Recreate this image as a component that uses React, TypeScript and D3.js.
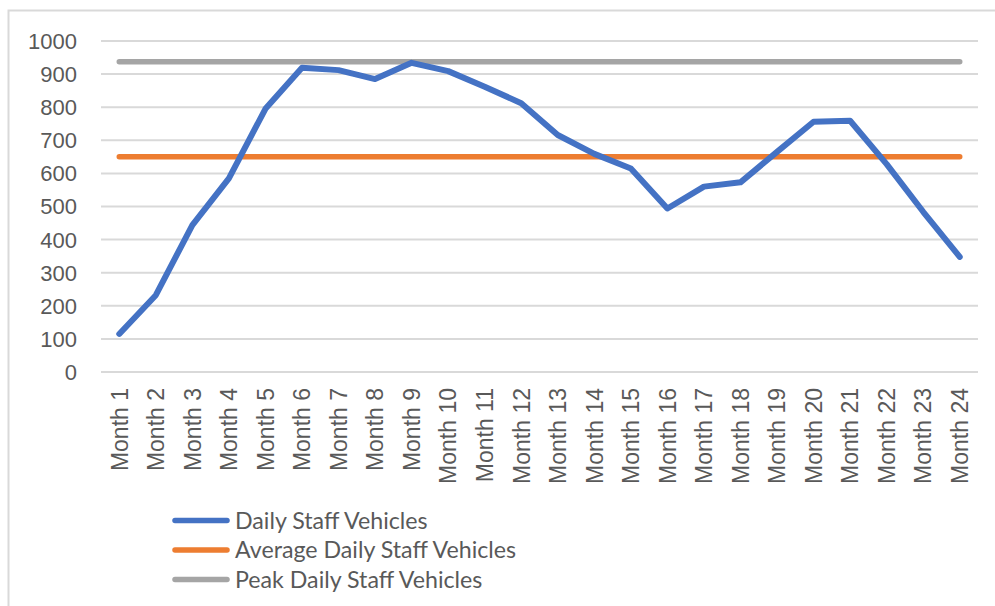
import React, { useEffect, useRef } from "react";
import * as d3 from "d3";

// data
const months = [
  "Month 1", "Month 2", "Month 3", "Month 4", "Month 5", "Month 6",
  "Month 7", "Month 8", "Month 9", "Month 10", "Month 11", "Month 12",
  "Month 13", "Month 14", "Month 15", "Month 16", "Month 17", "Month 18",
  "Month 19", "Month 20", "Month 21", "Month 22", "Month 23", "Month 24",
];
const dailyVehicles = [
  115, 232, 444, 585, 795, 919, 912, 885, 934, 909, 862, 812,
  716, 659, 615, 494, 560, 573, 665, 756, 759, 628, 484, 348,
];
const averageVehicles = months.map(() => 650);
const peakVehicles = months.map(() => 937);
const yTicks = [0, 100, 200, 300, 400, 500, 600, 700, 800, 900, 1000];

const series = [
  { name: "Daily Staff Vehicles", values: dailyVehicles, color: "#4472C4" },
  { name: "Average Daily Staff Vehicles", values: averageVehicles, color: "#ED7D31" },
  { name: "Peak Daily Staff Vehicles", values: peakVehicles, color: "#A5A5A5" },
];

const App = () => {
  const ref = useRef<SVGSVGElement | null>(null);

  useEffect(() => {
    makeGraph();
  }, []);

  const makeGraph = () => {
    // setting canvas
    const width = 995;
    const height = 606;
    const plot = { left: 101, right: 978, top: 41, bottom: 372 };
    const textColor = "#595959";
    const gridColor = "#D9D9D9";

    const svg = d3.select(ref.current).attr("width", width).attr("height", height);
    svg.selectAll("*").remove();

    svg.append("rect").attr("width", width).attr("height", height).attr("fill", "#fff");

    // chart frame (only top and left edges are inside the picture)
    svg
      .append("rect")
      .attr("x", 8.5)
      .attr("y", 10.5)
      .attr("width", width + 20)
      .attr("height", height + 20)
      .attr("fill", "none")
      .attr("stroke", gridColor)
      .attr("stroke-width", 2);

    // setting axis
    const x = d3.scaleBand().domain(months).range([plot.left, plot.right]);
    const cx = (m: string) => (x(m) as number) + x.bandwidth() / 2;

    const y = d3.scaleLinear().domain([0, 1000]).range([plot.bottom, plot.top]);

    // grid
    svg
      .append("g")
      .selectAll("line")
      .data(yTicks)
      .enter()
      .append("line")
      .attr("x1", plot.left)
      .attr("x2", plot.right)
      .attr("y1", (d) => y(d))
      .attr("y2", (d) => y(d))
      .attr("stroke", gridColor)
      .attr("stroke-width", 2);

    // y axis labels
    svg
      .append("g")
      .selectAll("text")
      .data(yTicks)
      .enter()
      .append("text")
      .attr("x", 77)
      .attr("y", (d) => y(d))
      .attr("dy", "0.36em")
      .attr("text-anchor", "end")
      .attr("font-family", "'Liberation Sans', Arial, sans-serif")
      .attr("font-size", 22)
      .attr("fill", textColor)
      .text((d) => d);

    // x axis labels (rotated)
    svg
      .append("g")
      .selectAll("text")
      .data(months)
      .enter()
      .append("text")
      .attr("transform", (d) => `translate(${cx(d)}, 388) rotate(-90)`)
      .attr("dy", "0.36em")
      .attr("text-anchor", "end")
      .attr("font-family", "'Liberation Sans', Arial, sans-serif")
      .attr("font-size", 23)
      .attr("fill", textColor)
      .text((d) => d);

    // lines
    const line = d3
      .line<number>()
      .x((d, i) => cx(months[i]))
      .y((d) => y(d));

    series
      .slice()
      .reverse()
      .forEach((s) => {
        svg
          .append("path")
          .datum(s.values)
          .attr("fill", "none")
          .attr("stroke", s.color)
          .attr("stroke-width", s.name === "Daily Staff Vehicles" ? 6 : 5.5)
          .attr("stroke-linecap", "round")
          .attr("stroke-linejoin", "round")
          .attr("d", line);
      });

    // legend
    const legend = svg
      .append("g")
      .selectAll("g")
      .data(series)
      .enter()
      .append("g")
      .attr("transform", (d, i) => `translate(0, ${520.5 + i * 29.5})`);

    legend
      .append("line")
      .attr("x1", 175)
      .attr("x2", 227)
      .attr("stroke", (d) => d.color)
      .attr("stroke-width", 5.5)
      .attr("stroke-linecap", "round");

    legend
      .append("text")
      .attr("x", 235)
      .attr("dy", "0.35em")
      .attr("font-family", "Lato, 'Open Sans', sans-serif")
      .attr("font-size", 23.2)
      .attr("fill", textColor)
      .text((d) => d.name);
  };

  return (
    <svg
      ref={ref}
      style={{ position: "absolute", left: 0, top: 0, display: "block" }}
    ></svg>
  );
};

export default App;
